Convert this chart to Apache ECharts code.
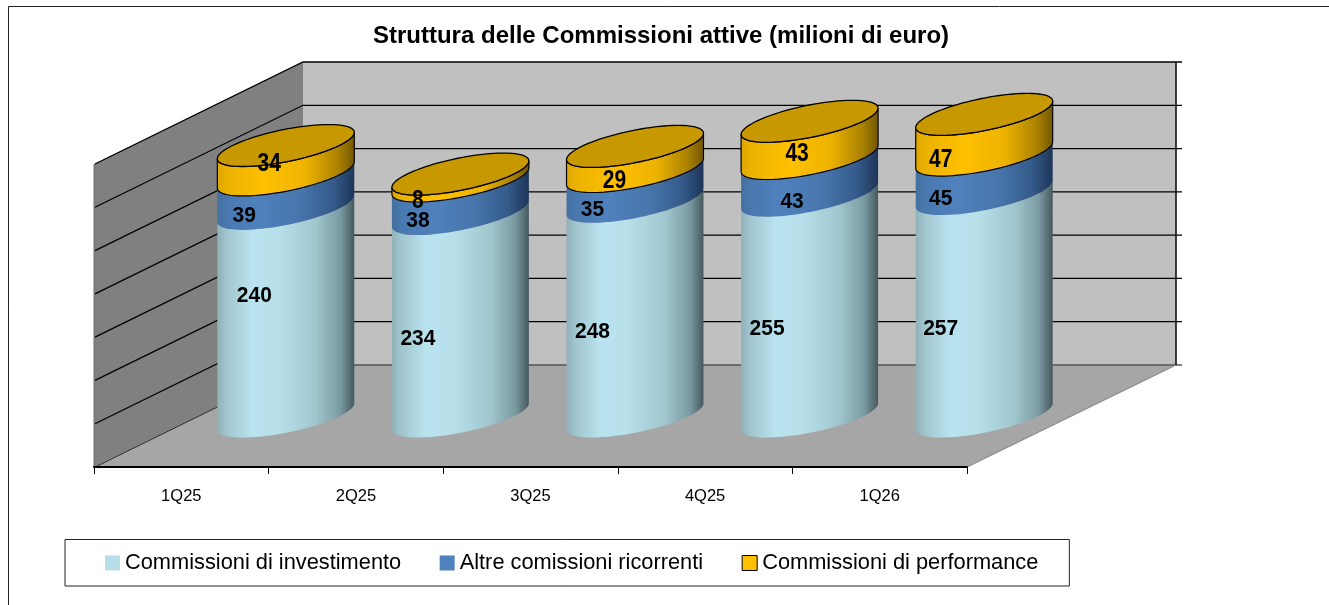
<!DOCTYPE html>
<html>
<head>
<meta charset="utf-8">
<style>html,body{margin:0;padding:0;background:#fff}#c{width:1329px;height:605px}</style>
<script src="https://cdn.jsdelivr.net/npm/echarts@6/dist/echarts.min.js"></script>
</head>
<body>
<div id="c"></div>
<script>
const titleText = 'Struttura delle Commissioni attive (milioni di euro)';
const categories = ['1Q25', '2Q25', '3Q25', '4Q25', '1Q26'];
const seriesNames = ['Commissioni di investimento', 'Altre comissioni ricorrenti', 'Commissioni di performance'];
const investimento = [240, 234, 248, 255, 257];
const ricorrenti = [39, 38, 35, 43, 45];
const performance_ = [34, 8, 29, 43, 47];

/* label placement in the reference: offsets in px from (category centre, segment middle) */
const investimentoLabelOffsets = [[73, -67], [62, -27], [62, -28], [62, -28], [61, -27]];
const ricorrentiLabelOffsets = [[63, -26], [62, -27], [62, -27], [87, -26], [61, -26]];
const performanceLabelOffsets = [[88, -47], [62, -27], [84, -29], [92, -36], [61, -25]];

const FONT = '"Liberation Sans", Arial, sans-serif';
const DEPTH_X = 209, DEPTH_Y = -102;           // oblique projection of the chart's depth
const CYL_Y = -50.5;                           // cylinders stand at mid depth
const RA = 53.3, RB = 43, RC = 21;             // cylinder ellipse in projection
const T0 = Math.atan2(RB, RA);

function ell(c, t) {
  return [c[0] + RA * Math.cos(t) + RB * Math.sin(t), c[1] - RC * Math.sin(t)];
}
function frontArc(c, reverse) {   // silhouette: right extreme -> through the front -> left extreme
  const pts = [];
  const n = 40;
  for (let k = 0; k <= n; k++) {
    const f = reverse ? 1 - k / n : k / n;
    pts.push(ell(c, T0 - Math.PI * f));
  }
  return pts;
}
function fullEllipse(c) {
  const pts = [];
  for (let k = 0; k < 90; k++) pts.push(ell(c, 2 * Math.PI * k / 90));
  return pts;
}
function grad(stops) {
  return { type: 'linear', x: 0, y: 0, x2: 1, y2: 0,
    colorStops: stops.map(s => ({ offset: s[0], color: s[1] })) };
}
const bodyFills = [
  grad([[0, '#8FB0B8'], [0.06, '#A0C4CC'], [0.25, '#B9E3EF'], [0.45, '#B7E0EA'], [0.72, '#A0C6CE'], [0.9, '#7A9AA1'], [1, '#46595D']]),
  grad([[0, '#44709F'], [0.08, '#4A79B1'], [0.3, '#4F81BD'], [0.6, '#4876AC'], [0.85, '#345A8A'], [1, '#1E3557']]),
  grad([[0, '#DDA600'], [0.08, '#EBB200'], [0.35, '#FFC000'], [0.65, '#EDB300'], [0.88, '#AB8200'], [1, '#705500']])
];

function cylinderItem(sIdx, offsets, isTop) {
  return function (params, api) {
    const i = api.value(0), base = api.value(1), top = api.value(2), val = api.value(3);
    const p0 = api.coord([i, base]), p1 = api.coord([i, top]);
    const c0 = [p0[0] + DEPTH_X / 2, p0[1] + CYL_Y];
    const c1 = [p1[0] + DEPTH_X / 2, p1[1] + CYL_Y];
    const points = frontArc(c1, false).concat(frontArc(c0, true));
    const children = [{
      type: 'polygon',
      shape: { points },
      style: { fill: bodyFills[sIdx], stroke: isTop ? '#000' : null, lineWidth: isTop ? 1.2 : 0 }
    }];
    if (isTop) {
      children.push({
        type: 'polygon',
        shape: { points: fullEllipse(c1) },
        style: { fill: '#C79800', stroke: '#000', lineWidth: 1.3 }
      });
    }
    return { type: 'group', children };
  };
}
function labelItem(offsets, isTop) {
  return function (params, api) {
    const i = api.value(0), base = api.value(1), top = api.value(2), val = api.value(3);
    const m = api.coord([i, (base + top) / 2]);
    const o = offsets[params.dataIndex];
    return {
      type: 'text',
      x: m[0] + o[0], y: m[1] + o[1],
      scaleY: isTop ? 1.22 : 1.05,
      style: { text: String(val), x: 0, y: 0, align: 'center', verticalAlign: 'middle',
        font: 'bold 21px ' + FONT, fill: '#000' }
    };
  };
}
function chamber(params, api) {
  const cs = params.coordSys;
  const L = cs.x, R = cs.x + cs.width, B = cs.y + cs.height;
  const ch = [];
  ch.push({ type: 'polygon', shape: { points: [[L + DEPTH_X, B + DEPTH_Y - 303], [R + DEPTH_X, B + DEPTH_Y - 303], [R + DEPTH_X, B + DEPTH_Y], [L + DEPTH_X, B + DEPTH_Y]] }, style: { fill: '#C0C0C0' } });
  ch.push({ type: 'polygon', shape: { points: [[L, cs.y], [L + DEPTH_X, cs.y + DEPTH_Y], [L + DEPTH_X, B + DEPTH_Y], [L, B]] }, style: { fill: '#808080' } });
  ch.push({ type: 'polygon', shape: { points: [[L, B], [R, B], [R + DEPTH_X, B + DEPTH_Y], [L + DEPTH_X, B + DEPTH_Y]] }, style: { fill: '#A6A6A6' } });
  for (let v = 50; v <= 350; v += 50) {
    const y = api.coord([0, v])[1];
    ch.push({ type: 'polyline', shape: { points: [[L + 1, y], [L + DEPTH_X, y + DEPTH_Y], [R + DEPTH_X + 6, y + DEPTH_Y]] },
      style: { stroke: '#000', lineWidth: 1.3, fill: null } });
  }
  const by = B + DEPTH_Y;
  ch.push({ type: 'line', shape: { x1: L + DEPTH_X, y1: by, x2: R + DEPTH_X, y2: by }, style: { stroke: '#555', lineWidth: 1.5 } });
  ch.push({ type: 'line', shape: { x1: R + DEPTH_X, y1: by, x2: R + DEPTH_X + 6, y2: by }, style: { stroke: '#000', lineWidth: 1 } });
  ch.push({ type: 'line', shape: { x1: L + 1, y1: B, x2: L + DEPTH_X, y2: by }, style: { stroke: '#222', lineWidth: 1 } });
  ch.push({ type: 'line', shape: { x1: R, y1: B, x2: R + DEPTH_X, y2: by }, style: { stroke: '#8C8C8C', lineWidth: 1.2 } });
  ch.push({ type: 'line', shape: { x1: R + DEPTH_X, y1: cs.y + DEPTH_Y, x2: R + DEPTH_X, y2: by }, style: { stroke: '#111', lineWidth: 1.6 } });
  ch.push({ type: 'line', shape: { x1: L, y1: cs.y, x2: L, y2: B }, style: { stroke: '#6E6E6E', lineWidth: 1 } });
  return { type: 'group', children: ch };
}

const lists = [investimento, ricorrenti, performance_];
const offsetLists = [investimentoLabelOffsets, ricorrentiLabelOffsets, performanceLabelOffsets];
const legendColors = ['#B7DEE8', '#4F81BD', '#FFC000'];
const running = categories.map(() => 0);
const rows = lists.map(list => list.map((v, i) => {
  const row = [i, running[i], running[i] + v, v];
  running[i] += v;
  return row;
}));

const series = [{
  type: 'custom', name: '_chamber', renderItem: chamber, data: [[0, 0]], silent: true, clip: false,
  encode: { x: 0, y: 1 }, z: 1
}];
rows.forEach((data, s) => {
  series.push({
    type: 'custom', name: seriesNames[s], data, clip: false, silent: true, z: 2,
    encode: { x: 0, y: [1, 2] },
    itemStyle: { color: legendColors[s] },
    renderItem: cylinderItem(s, offsetLists[s], s === 2)
  });
});
rows.forEach((data, s) => {
  series.push({
    type: 'custom', name: '_labels' + s, data, clip: false, silent: true, z: 3,
    encode: { x: 0, y: [1, 2] },
    renderItem: labelItem(offsetLists[s], s === 2)
  });
});

const chart = echarts.init(document.getElementById('c'), null, { renderer: 'canvas' });
chart.setOption({
  animation: false,
  backgroundColor: '#fff',
  title: {
    text: titleText, left: 656, top: 19, textAlign: 'center',
    textStyle: { fontFamily: FONT, fontWeight: 'bold', fontSize: 24, color: '#000' }
  },
  grid: { left: 94, width: 873, top: 164, height: 303 },
  xAxis: {
    type: 'category', data: categories, z: 10,
    axisLine: { lineStyle: { color: '#000', width: 2 } },
    axisTick: { show: true, length: 7, lineStyle: { color: '#000', width: 1 } },
    axisLabel: { margin: 21, fontFamily: FONT, fontSize: 16.5, color: '#000' }
  },
  yAxis: { type: 'value', min: 0, max: 350, interval: 50, show: false, splitLine: { show: false } },
  legend: {
    data: [
      { name: seriesNames[0], icon: 'rect' },
      { name: seriesNames[1], icon: 'rect' },
      { name: seriesNames[2], icon: 'rect', itemStyle: { borderColor: '#000', borderWidth: 1 } }
    ],
    left: 65, top: 539.5, itemWidth: 15, itemHeight: 15, itemGap: 38.5,
    padding: [12.5, 31, 12, 40],
    borderColor: '#222', borderWidth: 1, backgroundColor: '#fff',
    textStyle: { fontFamily: FONT, fontSize: 21.8, color: '#000' },
    selectedMode: false
  },
  graphic: [{
    type: 'rect', shape: { x: 8.5, y: 6.5, width: 1500, height: 800 }, silent: true,
    style: { fill: 'none', stroke: '#222', lineWidth: 1 }, z: 0
  }],
  series
});
</script>
</body>
</html>
